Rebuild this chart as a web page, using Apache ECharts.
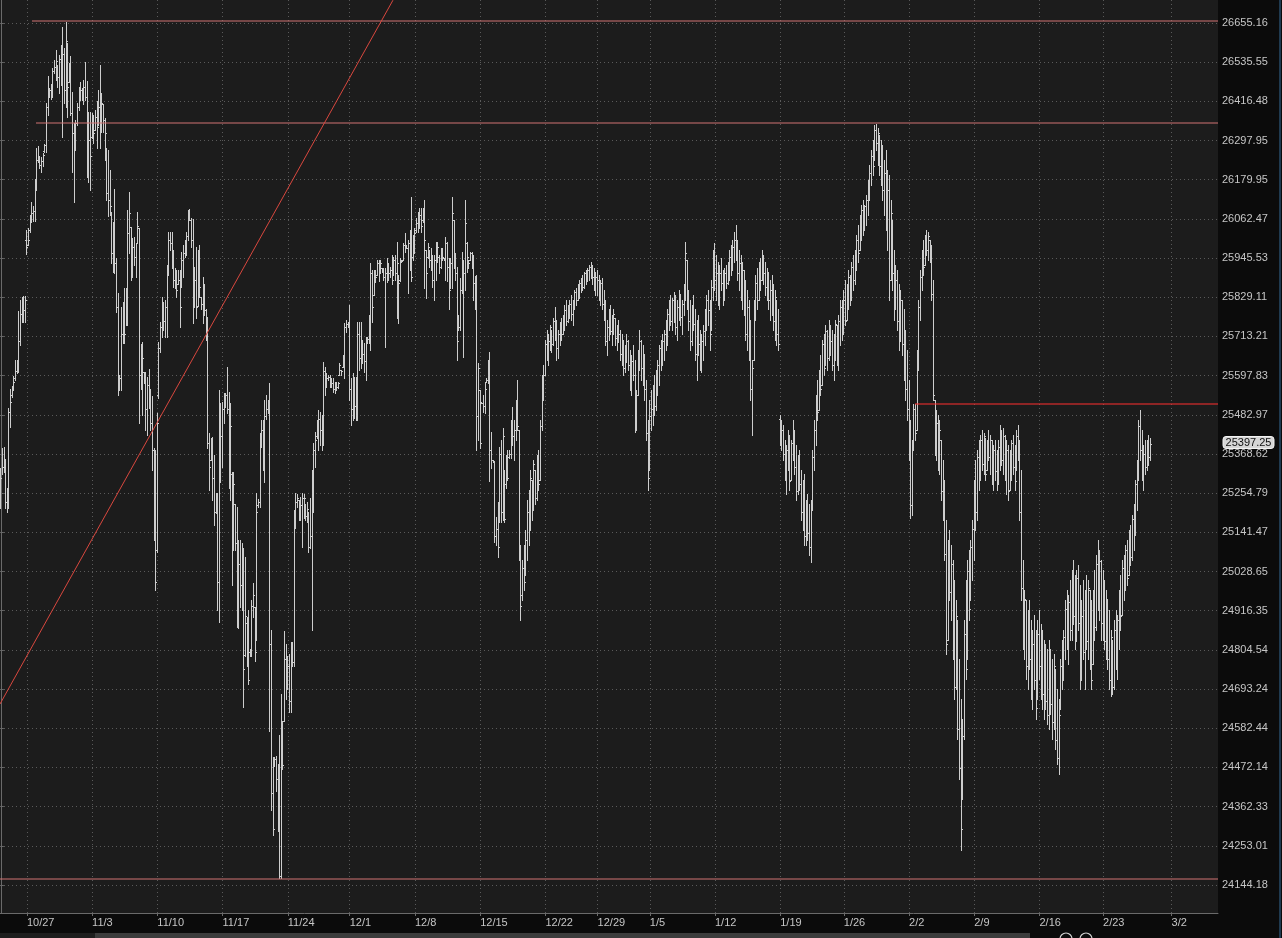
<!DOCTYPE html>
<html><head><meta charset="utf-8">
<script src="https://cdn.jsdelivr.net/npm/echarts@6/dist/echarts.min.js"></script>
<style>html,body{margin:0;padding:0;background:#0b0b0b;}#c{width:1282px;height:938px;}</style>
</head><body><div id="c"></div>
<script>
// ---- axis tick labels ----
const yTickLabels = ['24144.18','24253.01','24362.33','24472.14','24582.44','24693.24','24804.54','24916.35','25028.65','25141.47','25254.79','25368.62','25482.97','25597.83','25713.21','25829.11','25945.53','26062.47','26179.95','26297.95','26416.48','26535.55','26655.16'];
const weekLabels = ['10/27','11/3','11/10','11/17','11/24','12/1','12/8','12/15','12/22','12/29','1/5','1/12','1/19','1/26','2/2','2/9','2/16','2/23','3/2'];
const weekStarts = [16,56,96,136,176,214,254,294,334,366,398,438,478,517,557,597,637,676,718];
const yRange = [24066.7, 26725.6];
const xRange = [-0.5, 746.5];
const lastPrice = 25397.25;

// ---- 3h OHLC bars, [open, high, low, close], one array per week ----
const wPre = [[25270,25329,25213,25300],[25300,25387,25309,25330],[25330,25390,25317,25350],[25350,25355,25213,25230],[25230,25271,25201,25250],[25240,25503,25213,25490],[25490,25559,25448,25520],[25540,25568,25535,25560],[25560,25597,25556,25580],[25590,25645,25585,25610],[25610,25645,25606,25640],[25640,25787,25609,25700],[25700,25822,25689,25780],[25780,25831,25757,25800],[25800,25834,25757,25790],[25790,25834,25757,25820]];
const w1027 = [[26000,26029,25958,25980],[25985,26035,25985,26000],[26030,26073,26023,26060],[26060,26113,26053,26080],[26080,26101,26056,26085],[26085,26182,26056,26170],[26170,26276,26149,26240],[26240,26282,26234,26250],[26250,26252,26216,26225],[26225,26249,26203,26235],[26235,26261,26222,26255],[26265,26288,26264,26285],[26285,26410,26264,26400],[26400,26494,26376,26440],[26440,26458,26431,26450],[26450,26470,26425,26455],[26455,26519,26431,26510],[26510,26543,26504,26520],[26520,26573,26482,26540],[26528,26528,26461,26490],[26490,26558,26443,26545],[26545,26588,26467,26500],[26500,26643,26310,26560],[26560,26579,26413,26450],[26450,26658,26400,26600],[26594,26594,26370,26460],[26476,26534,26476,26530],[26530,26555,26376,26380],[26380,26446,26204,26320],[26320,26352,26113,26280],[26280,26360,26270,26350],[26350,26413,26346,26400],[26400,26461,26391,26440],[26440,26476,26422,26450],[26450,26458,26422,26430],[26430,26482,26407,26460],[26460,26537,26422,26430],[26430,26479,26188,26200],[26200,26385,26173,26300],[26300,26385,26149,26250]];
const w1103 = [[26310,26382,26306,26360],[26360,26376,26291,26320],[26331,26391,26331,26370],[26370,26419,26276,26340],[26350,26452,26346,26400],[26400,26528,26276,26350],[26350,26443,26325,26410],[26407,26407,26325,26360],[26360,26367,26240,26320],[26276,26276,26119,26140],[26140,26270,26070,26120],[26120,26210,26073,26100],[26082,26082,25932,25960],[25960,26053,25905,26030],[26030,26152,25902,25930],[25930,25947,25784,25800],[25800,25843,25541,25575],[25575,25600,25556,25590],[25590,25799,25556,25720],[25720,25816,25695,25780],[25780,25858,25695,25720],[25720,25858,25748,25840],[25840,26088,25748,26020],[26020,26143,25961,26080],[26038,26038,25881,25920],[25920,26006,25890,25980],[25980,26009,25926,25950],[25950,25991,25890,25990],[25991,26082,25991,26040],[26035,26035,25459,25600],[25600,25690,25560,25640],[25640,25698,25482,25650],[25609,25609,25576,25590],[25590,25609,25439,25500],[25500,25594,25425,25570],[25570,25618,25503,25540],[25540,25560,25440,25460],[25460,25538,25323,25380],[25380,25387,25120,25260],[25260,25381,24975,25000]];
const w1110 = [[25090,25488,25085,25460],[25540,25698,25532,25680],[25680,25757,25668,25740],[25740,25831,25713,25790],[25790,25816,25733,25760],[25760,25822,25713,25800],[25800,25926,25713,25900],[25900,26024,25896,26000],[26000,26024,25970,25990],[25990,26024,25917,25940],[25940,25970,25861,25880],[25880,25917,25858,25900],[25900,25911,25831,25850],[25867,25911,25867,25880],[25880,25911,25742,25800],[25861,25964,25861,25940],[25940,25985,25890,25960],[25960,26000,25949,25990],[25990,26024,25955,26010],[26010,26088,26000,26070],[26070,26091,26059,26060],[26060,26064,25979,26000],[26000,26062,25754,25800],[25802,25920,25802,25880],[25880,25979,25769,25800],[25802,25970,25802,25930],[25930,25985,25831,25860],[25831,25831,25793,25810],[25810,25890,25754,25860],[25860,25867,25778,25790],[25790,25793,25704,25720],[25720,25772,25387,25400],[25400,25430,25265,25330],[25352,25416,25352,25390],[25390,25419,25236,25300],[25300,25367,25164,25200],[25200,25256,25198,25240],[25240,25256,24919,25000],[25000,25556,24885,25480],[25480,25518,25286,25420]];
const w1117 = [[25420,25521,25332,25500],[25500,25547,25459,25510],[25510,25547,25506,25540],[25540,25624,25488,25500],[25500,25550,25271,25300],[25300,25518,25236,25450],[25310,25315,24990,25100],[25100,25315,25091,25280],[25222,25222,25091,25110],[25110,25216,24871,24920],[24920,25120,24868,25050],[25050,25120,24926,24990],[24990,25112,24917,25060],[25060,25097,24643,24750],[24790,25071,24786,24900],[24880,24899,24758,24790],[24790,24919,24707,24720],[24800,24806,24786,24790],[24790,24946,24786,24930],[24930,24996,24899,24960],[24928,24928,24772,24800],[24834,25254,24834,25200],[25220,25239,25216,25230],[25230,25430,25216,25400],[25400,25468,25390,25440],[25440,25468,25323,25350],[25350,25526,25286,25480],[25480,25540,25470,25500],[25500,25526,25488,25500],[25500,25576,24575,24820],[24820,24862,24352,24400],[24400,24502,24284,24300],[24480,24502,24476,24495],[24495,24505,24405,24440],[24440,24482,24293,24300],[24300,24564,24163,24170],[24170,24679,24163,24550],[24550,24603,24468,24480],[24603,24857,24603,24780],[24780,24820,24665,24700]];
const w1124 = [[24700,24786,24693,24760],[24760,24792,24628,24660],[24660,24826,24628,24800],[24800,24826,24758,24770],[24770,25207,24758,25180],[25180,25254,25155,25230],[25230,25251,25216,25240],[25236,25236,25178,25190],[25190,25245,25178,25220],[25220,25254,25100,25240],[25240,25251,25184,25240],[25222,25222,25178,25190],[25190,25228,25170,25210],[25201,25201,25085,25100],[25100,25242,25097,25130],[25130,25323,24862,25300],[25300,25401,25201,25380],[25380,25433,25332,25410],[25420,25468,25416,25440],[25440,25497,25381,25470],[25470,25491,25396,25440],[25440,25482,25381,25470],[25470,25639,25396,25610],[25610,25624,25541,25580],[25580,25606,25565,25590],[25590,25600,25585,25595],[25595,25600,25565,25580],[25580,25591,25565,25575],[25575,25591,25550,25560],[25560,25579,25547,25570],[25570,25579,25556,25565],[25565,25579,25562,25575],[25600,25636,25600,25630],[25615,25615,25600,25610],[25624,25659,25624,25650],[25650,25754,25591,25740],[25740,25763,25727,25750],[25750,25757,25742,25745]];
const w1201 = [[25745,25807,25526,25560],[25560,25591,25454,25500],[25500,25606,25468,25580],[25580,25594,25474,25510],[25510,25594,25468,25560],[25560,25757,25468,25720],[25720,25757,25615,25650],[25650,25757,25621,25700],[25700,25704,25636,25660],[25660,25695,25609,25640],[25640,25713,25585,25700],[25700,25713,25695,25705],[25705,25778,25695,25770],[25770,25932,25674,25900],[25900,25911,25757,25800],[25837,25911,25837,25900],[25900,25911,25873,25890],[25896,25941,25896,25930],[25930,25941,25876,25900],[25905,25941,25902,25930],[25915,25917,25905,25910],[25910,25917,25881,25890],[25890,25917,25683,25900],[25900,25946,25873,25930],[25930,25932,25881,25900],[25900,25920,25890,25910],[25910,25955,25867,25880],[25896,25949,25896,25940],[25940,25955,25881,25900],[25900,25994,25769,25930],[25896,25896,25754,25870],[25880,25946,25876,25940],[25940,25941,25935,25938],[25941,25991,25941,25985],[25985,26021,25964,25975],[25980,25985,25976,25977],[25977,26000,25843,25990],[25990,26029,25911,25950],[25950,26128,25876,25890],[25950,26015,25941,26000]];
const w1208 = [[26000,26035,25961,26020],[26030,26065,26023,26050],[26050,26082,26023,26060],[26060,26094,26035,26075],[26075,26094,26023,26040],[26060,26094,26053,26080],[26080,26119,25858,26000],[25970,25970,25828,25900],[25950,25991,25946,25980],[25960,25970,25920,25940],[25940,25976,25911,25930],[25930,25955,25861,25880],[25880,25955,25822,25940],[25940,25994,25881,25960],[25960,25994,25935,25980],[25950,25955,25902,25920],[25920,25976,25917,25960],[25960,25976,25941,25950],[25946,25946,25941,25943],[25943,26009,25881,25990],[25990,25994,25876,25920],[25920,25946,25793,25850],[25858,25946,25858,25930],[25930,26128,25858,26080],[26059,26059,25917,25950],[25950,25960,25880,25900],[25900,25920,25645,25700],[25740,25778,25733,25740],[25740,25887,25733,25850],[25850,25964,25843,25930],[25930,25941,25653,25900],[25900,26119,25852,26050],[25990,25994,25905,25950],[25940,25941,25917,25930],[25941,25964,25941,25960],[25960,25964,25917,25940],[25940,25955,25822,25870],[25870,25893,25793,25810],[25810,25896,25381,25480],[25480,25636,25410,25620]];
const w1215 = [[25556,25556,25387,25400],[25520,25521,25518,25519],[25519,25541,25491,25510],[25510,25579,25488,25560],[25580,25591,25579,25585],[25585,25645,25576,25640],[25640,25668,25289,25380],[25380,25433,25329,25350],[25350,25352,25346,25348],[25346,25346,25114,25130],[25130,25187,25106,25150],[25150,25230,25071,25100],[25170,25390,25170,25370],[25370,25410,25172,25200],[25200,25445,25178,25420],[25323,25323,25172,25180],[25280,25367,25271,25350],[25350,25381,25294,25300],[25360,25381,25358,25370],[25370,25468,25358,25450],[25450,25506,25396,25420],[25420,25468,25352,25440],[25440,25526,25410,25500],[25500,25585,25439,25450],[25439,25439,25062,25080],[25080,25106,24891,24930],[24960,25062,24946,25040],[25040,25106,24975,25000],[25000,25149,25019,25120],[25120,25236,25062,25200],[25200,25265,25106,25150],[25150,25323,25149,25300],[25294,25294,25178,25210],[25210,25352,25207,25340],[25323,25323,25222,25240],[25240,25367,25236,25350],[25350,25381,25265,25280],[25294,25468,25294,25450],[25450,25600,25439,25580],[25580,25630,25526,25600]];
const w1222 = [[25600,25704,25600,25690],[25690,25733,25645,25660],[25660,25719,25630,25700],[25700,25748,25674,25740],[25733,25733,25668,25690],[25690,25769,25689,25760],[25760,25799,25704,25720],[25720,25763,25645,25680],[25680,25733,25650,25720],[25720,25757,25689,25740],[25740,25769,25704,25720],[25720,25778,25719,25765],[25765,25807,25733,25790],[25790,25822,25748,25760],[25760,25807,25757,25800],[25800,25822,25769,25810],[25810,25837,25763,25780],[25780,25822,25748,25815],[25815,25852,25793,25845],[25845,25858,25807,25820],[25822,25867,25822,25860],[25860,25881,25828,25870],[25870,25887,25846,25880],[25880,25896,25852,25860],[25860,25905,25858,25900],[25900,25911,25867,25880],[25880,25917,25876,25910],[25910,25926,25881,25920],[25920,25935,25887,25900],[25900,25926,25867,25890],[25890,25917,25852,25870],[25870,25905,25837,25890]];
const w1229 = [[25890,25911,25837,25880],[25880,25896,25822,25850],[25850,25881,25807,25870],[25870,25887,25793,25810],[25810,25852,25763,25780],[25780,25822,25689,25700],[25700,25763,25659,25740],[25740,25793,25704,25760],[25760,25807,25719,25730],[25730,25778,25689,25760],[25760,25793,25719,25780],[25769,25769,25689,25710],[25710,25748,25674,25740],[25740,25763,25698,25720],[25720,25733,25645,25660],[25660,25719,25630,25700],[25700,25704,25600,25620],[25620,25689,25609,25670],[25670,25719,25639,25700],[25700,25704,25615,25630],[25630,25674,25556,25580],[25580,25659,25541,25640],[25640,25689,25585,25600],[25600,25645,25433,25470],[25470,25556,25439,25540],[25540,25674,25541,25650],[25650,25733,25615,25700],[25700,25704,25585,25620],[25620,25689,25571,25660],[25660,25659,25526,25560],[25560,25585,25410,25430],[25430,25468,25265,25300]];
const w0105 = [[25330,25526,25323,25480],[25480,25556,25439,25500],[25500,25571,25454,25540],[25540,25600,25482,25510],[25510,25615,25497,25600],[25600,25645,25541,25630],[25630,25689,25571,25680],[25680,25704,25615,25650],[25650,25719,25630,25700],[25700,25733,25645,25720],[25720,25763,25674,25750],[25750,25793,25689,25780],[25780,25822,25733,25800],[25800,25837,25748,25760],[25760,25828,25733,25820],[25820,25846,25757,25790],[25790,25837,25719,25740],[25740,25822,25704,25800],[25800,25852,25763,25840],[25837,25837,25748,25770],[25770,25822,25719,25810],[25810,25867,25778,25850],[25850,25994,25822,25960],[25941,25941,25793,25820],[25820,25852,25733,25760],[25760,25822,25674,25700],[25700,25807,25689,25790],[25790,25837,25733,25750],[25750,25793,25645,25660],[25660,25763,25585,25720],[25720,25778,25659,25690],[25690,25733,25615,25640],[25640,25719,25609,25700],[25700,25748,25645,25730],[25730,25793,25689,25780],[25780,25837,25733,25820],[25820,25852,25748,25790],[25790,25822,25674,25720],[25733,25881,25733,25860],[25860,25970,25822,25940]];
const w0112 = [[25940,25991,25852,25880],[25880,25955,25822,25900],[25900,25935,25807,25830],[25830,25926,25793,25900],[25900,25946,25852,25870],[25870,25911,25807,25820],[25822,25917,25822,25900],[25900,25926,25858,25870],[25870,25935,25867,25920],[25920,25970,25881,25950],[25950,25985,25896,25910],[25911,26000,25911,25980],[25980,26023,25935,26000],[26000,26044,25941,25960],[25960,26000,25881,25900],[25900,25970,25852,25930],[25930,25955,25822,25850],[25850,25935,25793,25910],[25910,25911,25778,25800],[25800,25881,25704,25720],[25720,25852,25674,25800],[25800,25822,25645,25680],[25680,25763,25526,25560],[25560,25645,25425,25620],[25645,25822,25645,25800],[25800,25896,25763,25870],[25870,25917,25793,25820],[25822,25935,25822,25910],[25910,25946,25852,25880],[25881,25970,25881,25950],[25950,25955,25867,25900],[25900,25935,25837,25860],[25860,25917,25822,25890],[25890,25905,25793,25820],[25820,25881,25763,25850],[25850,25896,25778,25800],[25800,25867,25733,25760],[25760,25852,25704,25830],[25822,25822,25689,25720],[25720,25793,25674,25690]];
const w0119 = [[25470,25482,25396,25420],[25420,25468,25381,25440],[25440,25454,25352,25370],[25370,25410,25294,25320],[25320,25396,25251,25380],[25380,25439,25323,25340],[25340,25425,25265,25290],[25294,25410,25294,25400],[25400,25468,25352,25430],[25430,25439,25309,25330],[25330,25396,25236,25260],[25260,25367,25251,25340],[25340,25381,25265,25280],[25280,25323,25178,25200],[25200,25294,25149,25260],[25260,25309,25106,25130],[25130,25236,25106,25200],[25200,25251,25120,25140],[25140,25222,25077,25100],[25100,25236,25056,25220],[25220,25381,25207,25360],[25360,25468,25323,25440],[25440,25541,25396,25520],[25520,25585,25468,25490],[25497,25615,25497,25600],[25600,25659,25541,25560],[25571,25704,25571,25690],[25690,25719,25600,25620],[25630,25748,25630,25730],[25730,25733,25615,25650],[25650,25763,25645,25740],[25740,25748,25659,25700],[25700,25733,25615,25630],[25630,25719,25585,25700],[25700,25763,25645,25750],[25748,25748,25630,25660],[25660,25778,25615,25760],[25760,25822,25689,25800],[25800,25822,25704,25780]];
const w0126 = [[25780,25852,25719,25820],[25820,25881,25748,25760],[25763,25867,25763,25850],[25850,25911,25793,25890],[25890,25896,25807,25830],[25830,25935,25822,25920],[25920,25955,25852,25880],[25880,25970,25867,25950],[25950,26015,25911,26000],[26000,26044,25935,25960],[25970,26073,25970,26050],[26050,26104,26000,26090],[26090,26119,26015,26030],[26030,26104,26029,26100],[26100,26134,26044,26120],[26120,26179,26073,26170],[26170,26225,26119,26200],[26200,26270,26164,26250],[26250,26300,26194,26220],[26240,26346,26240,26330],[26330,26349,26270,26290],[26290,26337,26225,26320],[26316,26316,26194,26220],[26220,26300,26164,26270],[26270,26285,26119,26150],[26150,26240,26073,26200],[26200,26270,26029,26060],[26060,26210,25970,26150],[26150,26194,25822,25880],[25881,26119,25881,26080],[26059,26059,25852,25900],[25900,25970,25763,25800],[25800,25926,25793,25880],[25880,25911,25733,25760],[25760,25867,25674,25700],[25704,25852,25704,25820],[25820,25822,25659,25690],[25690,25793,25585,25610],[25610,25733,25526,25560],[25560,25674,25468,25500]];
const w0202 = [[25500,25585,25352,25380],[25380,25468,25184,25220],[25220,25410,25193,25400],[25400,25515,25381,25500],[25500,25515,25410,25430],[25439,25674,25439,25650],[25650,25822,25615,25800],[25800,25911,25763,25890],[25890,25970,25852,25950],[25950,26000,25896,25920],[25926,26015,25926,26000],[26000,26029,25955,25970],[25970,26023,25941,26010],[26000,26000,25935,25950],[25950,25985,25822,25840],[25840,25881,25526,25540],[25526,25526,25367,25400],[25400,25497,25352,25460],[25460,25482,25323,25350],[25350,25468,25309,25440],[25410,25410,25236,25260],[25260,25352,25178,25200],[25200,25294,25062,25080],[25080,25178,24792,24820],[24834,25120,24834,25100],[25100,25149,24946,24970],[24970,25106,24891,25050],[25050,25062,24778,24800],[24800,25004,24665,24700],[24700,24946,24693,24900],[24891,24891,24552,24580],[24580,24778,24439,24470],[24470,24665,24242,24300],[24383,24609,24383,24560],[24560,24891,24552,24850],[24850,25004,24721,24750],[24778,25062,24778,25030],[25030,25091,24891,24920],[24946,25120,24946,25100],[25100,25178,25004,25150]];
const w0209 = [[25150,25294,25062,25260],[25260,25352,25149,25200],[25200,25381,25178,25360],[25360,25410,25265,25300],[25300,25425,25294,25410],[25410,25439,25323,25340],[25340,25430,25309,25420],[25416,25416,25294,25310],[25323,25410,25323,25400],[25400,25439,25352,25360],[25360,25425,25309,25410],[25410,25410,25280,25300],[25300,25396,25265,25380],[25380,25410,25294,25320],[25320,25381,25265,25280],[25280,25410,25280,25390],[25390,25454,25323,25430],[25430,25439,25338,25350],[25350,25445,25309,25420],[25420,25425,25294,25310],[25310,25410,25251,25380],[25380,25396,25236,25260],[25265,25381,25265,25360],[25360,25410,25294,25400],[25400,25425,25309,25330],[25330,25396,25265,25290],[25323,25439,25323,25420],[25420,25454,25352,25370],[25370,25410,25178,25200],[25200,25323,24946,24980],[24980,25062,24806,24830],[24830,24975,24778,24950],[24946,24946,24721,24760],[24760,24917,24693,24880],[24880,24946,24750,24780],[24780,24891,24665,24700],[24700,24862,24637,24820],[24820,24905,24693,24720],[24720,24862,24609,24640],[24665,24891,24665,24850]];
const w0216 = [[24850,24919,24721,24760],[24760,24877,24665,24820],[24820,24862,24637,24680],[24680,24834,24609,24780],[24780,24820,24637,24660],[24660,24806,24595,24620],[24620,24834,24580,24790],[24790,24806,24623,24650],[24650,24778,24552,24600],[24600,24792,24580,24760],[24750,24750,24524,24550],[24550,24693,24482,24500],[24500,24665,24454,24620],[24637,24778,24637,24760],[24760,24834,24693,24720],[24721,24862,24721,24840],[24840,24946,24778,24920],[24920,24975,24806,24830],[24830,24961,24764,24940],[24940,25004,24834,24860],[24860,25033,24834,25000],[25000,25062,24877,24900],[24900,25019,24806,24830],[24834,25033,24834,25010],[25010,25048,24862,24880],[24880,24990,24693,24720],[24721,24946,24721,24900],[24900,25004,24778,24800],[24800,24975,24693,24940],[24940,25019,24806,24830],[24830,25004,24778,24980],[24975,24975,24750,24780],[24780,24946,24693,24720],[24764,24975,24764,24950],[24950,25033,24834,24870],[24870,25077,24862,25050],[25050,25120,24917,24950],[24950,25091,24891,25060],[25060,25062,24834,24880]];
const w0223 = [[24880,25033,24834,24990],[24990,25004,24806,24830],[24830,24975,24778,24950],[24946,24946,24750,24780],[24780,24917,24693,24720],[24720,24862,24673,24840],[24834,24834,24679,24700],[24700,24891,24693,24860],[24860,24917,24750,24780],[24780,24905,24721,24890],[24890,24975,24806,24950],[24950,25019,24862,24900],[24905,25062,24905,25040],[25040,25077,24946,24980],[24980,25106,24975,25090],[25090,25120,24990,25010],[25019,25149,25019,25130],[25130,25164,25048,25070],[25070,25193,25062,25180],[25180,25222,25091,25200],[25200,25294,25135,25280],[25280,25352,25207,25330],[25330,25468,25294,25450],[25450,25497,25352,25380],[25380,25439,25294,25300],[25300,25396,25265,25370],[25370,25410,25309,25330],[25330,25410,25323,25400],[25400,25425,25338,25360],[25360,25416,25352,25397.25]];
const weeks = [wPre, w1027, w1103, w1110, w1117, w1124, w1201, w1208, w1215, w1222, w1229, w0105, w0112, w0119, w0126, w0202, w0209, w0216, w0223];
const weekFirstIndex = [0].concat(weekStarts);

// ---- drawn levels ----
const trendLine = [[-0.5, 24651], [240.5, 26725]];
const levelFrom = [19.7, 21.6, -0.5, 560.7];
const levelPrice = [26660, 26350, 24160, 25515];
const levelColor = ['#cf7272', '#cf7272', '#cf7272', '#ff2e2e'];

const lg = Math.log;
const bars = [];
weeks.forEach((wk, w) => wk.forEach((b, j) => {
  bars.push([weekFirstIndex[w] + j, lg(b[0]), lg(b[1]), lg(b[2]), lg(b[3])]);
}));
const yTickVals = yTickLabels.map(s => lg(parseFloat(s)));

function renderOHLC(params, api) {
  const i = api.value(0);
  const pH = api.coord([i, api.value(2)]);
  const pL = api.coord([i, api.value(3)]);
  const yO = api.coord([i, api.value(1)])[1];
  const yC = api.coord([i, api.value(4)])[1];
  const x = Math.floor(pH[0]);
  const top = Math.round(pH[1]), bot = Math.round(pL[1]);
  const st = {fill: '#cdcdcd'};
  return {type: 'group', children: [
    {type: 'rect', shape: {x: x, y: top, width: 1, height: Math.max(1, bot - top + 1)}, style: st},
    {type: 'rect', shape: {x: x - 1, y: Math.round(yO), width: 1, height: 1}, style: st},
    {type: 'rect', shape: {x: x + 1, y: Math.round(yC), width: 1, height: 1}, style: st}
  ]};
}
function renderLevel(params, api) {
  const p = api.coord([api.value(0), api.value(1)]);
  const cs = params.coordSys;
  const x0 = Math.max(cs.x, Math.floor(p[0]));
  return {type: 'rect', shape: {x: x0, y: Math.round(p[1]) - 0.5, width: cs.x + cs.width - x0, height: 1},
    style: {fill: levelColor[params.dataIndex]}};
}

const font = 'Liberation Sans';
const series = [{
  type: 'custom', renderItem: renderOHLC, data: bars, clip: true, z: 3,
  encode: {x: 0, y: [1, 2, 3, 4]}
}, {
  type: 'line', data: trendLine.map(p => [p[0], lg(p[1])]), symbol: 'none', silent: true,
  lineStyle: {color: '#d9483f', width: 1}, z: 4, clip: true
}, {
  type: 'custom', renderItem: renderLevel, z: 4, silent: true, clip: true,
  data: levelFrom.map((f, k) => [f, lg(levelPrice[k])]), encode: {x: 0, y: 1}
}];

const chart = echarts.init(document.getElementById('c'), null, {renderer: 'canvas'});
chart.setOption({
  backgroundColor: '#0b0b0b',
  animation: false,
  grid: {left: 0, top: 0, right: 64, bottom: 25, show: true, backgroundColor: '#1c1c1c', borderWidth: 0},
  xAxis: {
    type: 'value', min: xRange[0], max: xRange[1],
    axisLine: {onZero: false, lineStyle: {color: '#6a6a6a'}},
    axisTick: {show: true, customValues: weekStarts, length: 3, lineStyle: {color: '#6a6a6a'}},
    axisLabel: {customValues: weekStarts, formatter: v => weekLabels[weekStarts.indexOf(Math.round(v))] || '',
      align: 'left', margin: 4, color: '#c6c6c6', fontFamily: font, fontSize: 11},
    splitLine: {show: true, lineStyle: {color: '#5a5a5a', type: [1, 3]}}
  },
  yAxis: {
    type: 'value', position: 'right', min: lg(yRange[0]), max: lg(yRange[1]),
    axisLine: {show: true, lineStyle: {color: '#6a6a6a'}},
    axisTick: {show: true, customValues: yTickVals, length: 3, lineStyle: {color: '#6a6a6a'}},
    axisLabel: {customValues: yTickVals, margin: 4, color: '#c6c6c6', fontFamily: font, fontSize: 11,
      formatter: v => { let bi = 0, bd = 1e9; yTickVals.forEach((t, k) => { const d = Math.abs(t - v); if (d < bd) { bd = d; bi = k; } }); return yTickLabels[bi]; }},
    splitLine: {show: true, lineStyle: {color: '#5a5a5a', type: [1, 3]}}
  },
  series: series
});

// last-price tag on the price axis, placed through the axis scale
const tagY = Math.round(chart.convertToPixel({yAxisIndex: 0}, lg(lastPrice)));
chart.setOption({
  graphic: [
    {type: 'rect', shape: {x: 0, y: 933, width: 95, height: 5}, style: {fill: '#1e1e1e'}, z: 10},
    {type: 'rect', shape: {x: 95, y: 933, width: 935, height: 5}, style: {fill: '#3c3c3c'}, z: 10},
    {type: 'rect', shape: {x: 1279, y: 0, width: 2, height: 938}, style: {fill: '#1f3a50'}, z: 10},
    {type: 'circle', shape: {cx: 1066, cy: 939, r: 6}, style: {fill: 'none', stroke: '#cfcfcf', lineWidth: 1.2}, z: 10},
    {type: 'circle', shape: {cx: 1086, cy: 939, r: 6}, style: {fill: 'none', stroke: '#cfcfcf', lineWidth: 1.2}, z: 10},
    {type: 'rect', shape: {x: 1223, y: tagY - 7.5, width: 51, height: 12, r: 3},
      style: {fill: '#d6d6d6', stroke: '#f2f2f2', lineWidth: 1}, z: 20},
    {type: 'text', x: 1248.5, y: tagY - 1, z: 21,
      style: {text: lastPrice.toFixed(2), fill: '#111', font: '11px "Liberation Sans"', align: 'center', verticalAlign: 'middle'}}
  ]
});
</script>
</body></html>
